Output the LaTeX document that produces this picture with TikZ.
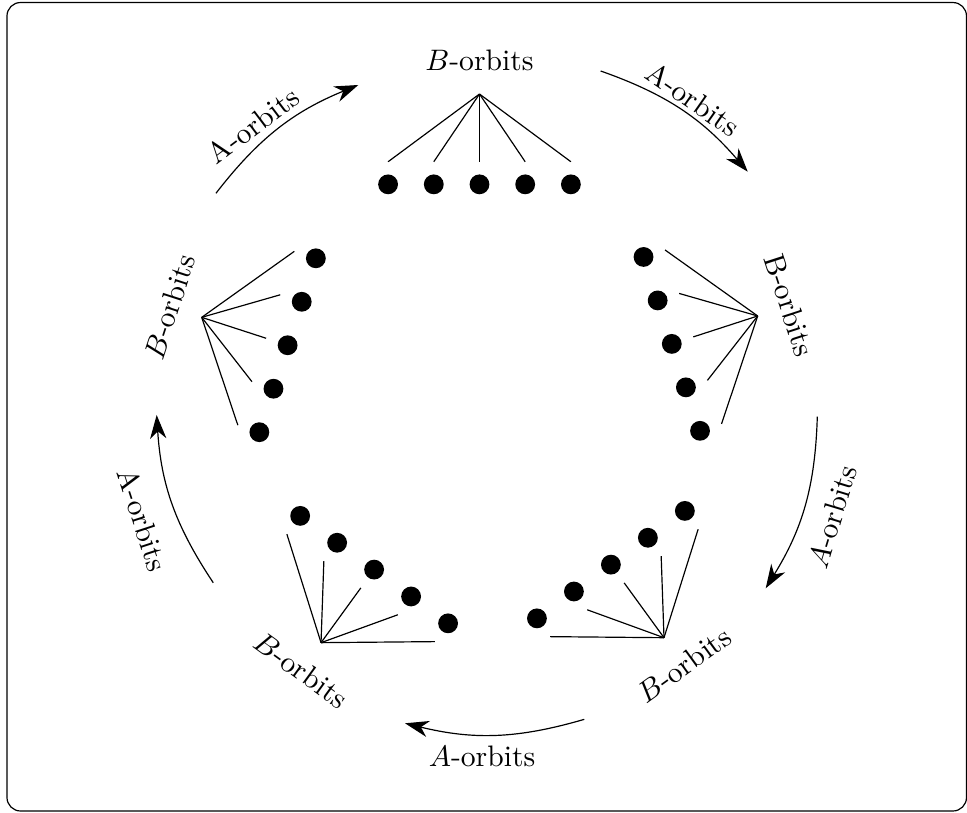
\documentclass[tikz,border=0pt]{standalone}
\usepackage{amsmath}
\usetikzlibrary{arrows.meta}

\begin{document}
\begin{tikzpicture}[
  dot/.style={circle, fill, inner sep=0pt, minimum size=2.35mm},
  lab/.style={inner sep=0pt},
  arr/.style={-{Stealth[length=8pt, width=5.5pt, inset=2.5pt]}}
]
\useasboundingbox (-5.749,-4.868) rectangle (5.718,4.761);
\draw[rounded corners=1.6mm] (-5.666,-4.856) rectangle (5.712,4.731);

% the five fans of B-orbits
\foreach \g/\x/\y/\r/\tr/\txt in {
  t/-0.063/3.646/0/0/{$B$-orbits},
  r/3.236/1.014/-72/-72/{B-orbits},
  br/2.125/-2.801/-144/36/{$B$-orbits},
  bl/-1.942/-2.860/144/-36/{$B$-orbits},
  l/-3.357/0.998/72/72/{$B$-orbits}} {
  \begin{scope}[shift={(\x,\y)}, rotate=\r]
    \coordinate (\g-apex) at (0,0);
    \node[lab, rotate=\tr] (\g-lab) at (0,0.4) {\txt};
    \foreach \i/\k in {1/-2, 2/-1, 3/0, 4/1, 5/2} {
      \node[dot] (\g-dot\i) at (\k*0.542,-1.071) {};
      \coordinate (\g-end\i) at (\k*0.542,-0.803);
      \draw (\g-apex) -- (\g-end\i);
    }
  \end{scope}
}

% A-orbits arrows between the fans
\coordinate (a1-s) at (1.374,3.919);
\coordinate (a1-e) at (3.118,2.725);
\coordinate (a2-s) at (3.943,-0.180);
\coordinate (a2-e) at (3.331,-2.215);
\coordinate (a3-s) at (1.180,-3.769);
\coordinate (a3-e) at (-0.946,-3.816);
\coordinate (a4-s) at (-3.220,-2.149);
\coordinate (a4-e) at (-3.891,-0.160);
\coordinate (a5-s) at (-3.188,2.469);
\coordinate (a5-e) at (-1.500,3.753);

\draw[arr] (a1-s) to[bend left=15] (a1-e);
\draw[arr] (a2-s) to[bend left=15] (a2-e);
\draw[arr] (a3-s) to[bend left=15] (a3-e);
\draw[arr] (a4-s) to[bend left=15] (a4-e);
\draw[arr] (a5-s) to[bend left=15] (a5-e);

\node[lab, rotate=-35] (a1-lab) at (2.469,3.587) {A-orbits};
\node[lab, rotate=73] (a2-lab) at (4.120,-1.370) {$A$-orbits};
\node[lab] (a3-lab) at (-0.033,-4.204) {$A$-orbits};
\node[lab, rotate=-72] (a4-lab) at (-4.053,-1.405) {A-orbits};
\node[lab, rotate=37] (a5-lab) at (-2.749,3.279) {A-orbits};

\end{tikzpicture}
\end{document}
